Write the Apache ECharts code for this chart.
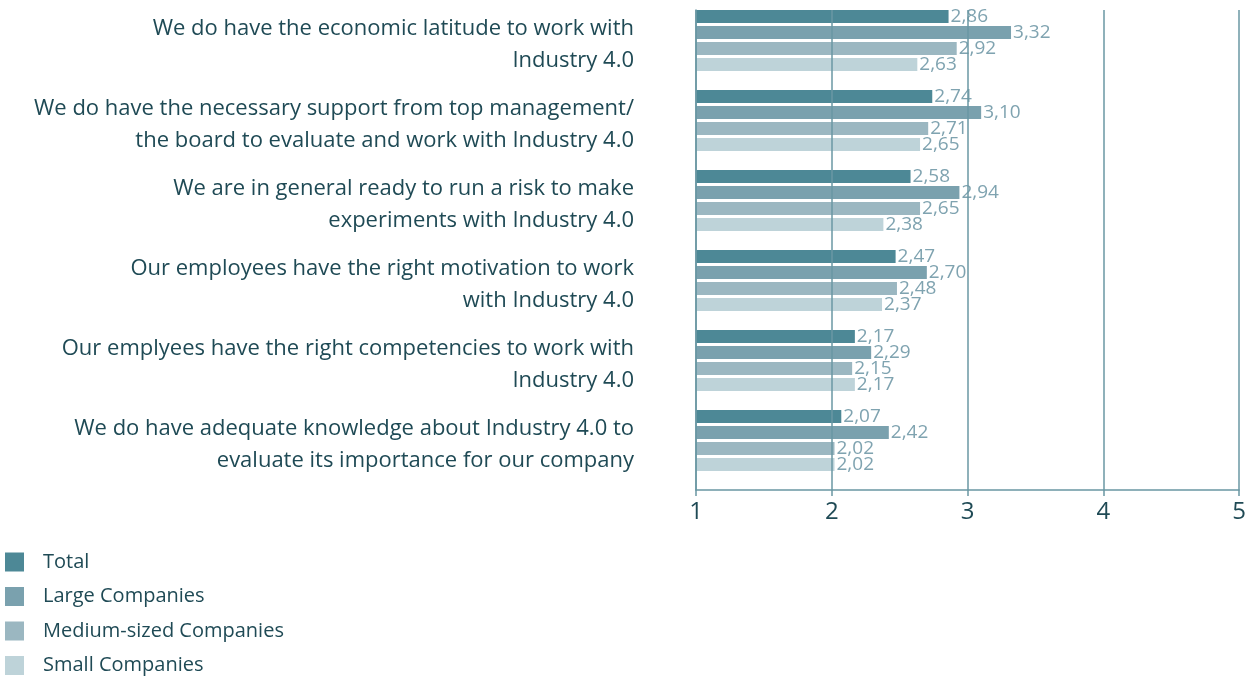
<!DOCTYPE html>
<html>
<head>
<meta charset="utf-8">
<script src="https://cdn.jsdelivr.net/npm/echarts@6/dist/echarts.min.js"></script>
<style>
  body { margin: 0; background: #fff; }
  #chart { width: 1249px; height: 677px; }
</style>
</head>
<body>
<div id="chart"></div>
<script>
var categories = [
  'We do have the economic latitude to work with\nIndustry 4.0',
  'We do have the necessary support from top management/\nthe board to evaluate and work with Industry 4.0',
  'We are in general ready to run a risk to make\nexperiments with Industry 4.0',
  'Our employees have the right motivation to work\nwith Industry 4.0',
  'Our emplyees have the right competencies to work with\nIndustry 4.0',
  'We do have adequate knowledge about Industry 4.0 to\nevaluate its importance for our company'
];
var seriesNames = ['Total', 'Large Companies', 'Medium-sized Companies', 'Small Companies'];
var total  = [2.86, 2.74, 2.58, 2.47, 2.17, 2.07];
var large  = [3.32, 3.10, 2.94, 2.70, 2.29, 2.42];
var medium = [2.92, 2.71, 2.65, 2.48, 2.15, 2.02];
var small  = [2.63, 2.65, 2.38, 2.37, 2.17, 2.02];
var xTicks = [1, 2, 3, 4, 5];

var colors = ['#4d8896', '#7aa1ae', '#9bb7c1', '#bed3d9'];
var lineColor = '#6a97a3';
var textColor = '#1f4a55';

function barSeries (name, data, color) {
  return {
    name: name,
    type: 'bar',
    data: data,
    barWidth: 13,
    barGap: '23.08%',
    itemStyle: { color: color },
    label: {
      show: true,
      position: 'right',
      distance: 2,
      color: '#7fa3b0',
      fontSize: 19,
      fontFamily: 'Open Sans',
      formatter: function (p) { return p.value.toFixed(2).replace('.', ','); }
    }
  };
}

var chart = echarts.init(document.getElementById('chart'));
chart.setOption({
  animation: false,
  color: colors,
  grid: { left: 696, right: 8, top: 10, height: 480 },
  legend: {
    data: seriesNames,
    orient: 'vertical',
    left: 5,
    top: 552,
    height: 200,
    padding: 0,
    itemWidth: 19,
    itemHeight: 19,
    itemGap: 14.5,
    icon: 'rect',
    textStyle: { color: textColor, fontSize: 20, lineHeight: 19, fontFamily: 'Open Sans', padding: [0, 0, 0, 14] }
  },
  xAxis: {
    type: 'value',
    min: xTicks[0],
    max: xTicks[xTicks.length - 1],
    interval: 1,
    z: 10,
    axisLine: { show: true, lineStyle: { color: lineColor, width: 1.5 } },
    axisTick: { show: true, length: 6, lineStyle: { color: lineColor, width: 1.5 } },
    splitLine: { show: true, lineStyle: { color: lineColor, width: 1.5 } },
    axisLabel: { color: textColor, fontSize: 24, fontFamily: 'Open Sans', margin: 10 }
  },
  yAxis: {
    type: 'category',
    data: categories,
    inverse: true,
    z: 10,
    axisLine: { show: true, lineStyle: { color: lineColor, width: 1.5 } },
    axisTick: { show: false },
    axisLabel: {
      interval: 0,
      showMinLabel: true,
      showMaxLabel: true,
      color: textColor,
      fontSize: 22,
      fontFamily: 'Open Sans',
      lineHeight: 32,
      align: 'right',
      margin: 62,
      // empty short last line lifts the two text lines a little
      formatter: function (v) { return v + '\n{s| }'; },
      rich: { s: { fontSize: 2, lineHeight: 10 } }
    }
  },
  series: [
    barSeries(seriesNames[0], total, colors[0]),
    barSeries(seriesNames[1], large, colors[1]),
    barSeries(seriesNames[2], medium, colors[2]),
    barSeries(seriesNames[3], small, colors[3]),
    {
      // spacer so the four bars sit at the top of each band
      name: 'spacer',
      type: 'bar',
      data: categories.map(function () { return '-'; }),
      barWidth: 16,
      barGap: '23.08%',
      silent: true,
      itemStyle: { color: 'transparent' }
    }
  ]
});
</script>
</body>
</html>
